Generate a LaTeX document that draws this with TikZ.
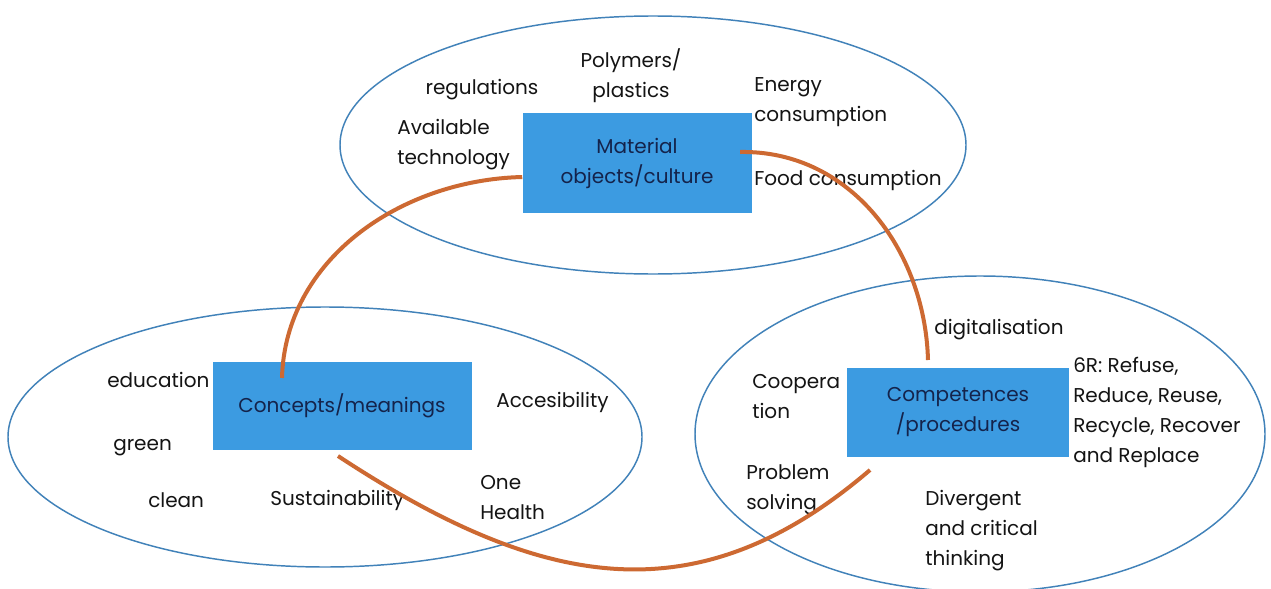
\documentclass[tikz,border=0pt]{standalone}
\usepackage{fontspec}
\setmainfont{Poppins}
\usetikzlibrary{calc}

\definecolor{boxblue}{RGB}{60,155,225}
\definecolor{ringblue}{RGB}{65,130,185}
\definecolor{linkorange}{RGB}{205,105,50}
\definecolor{boxtext}{RGB}{20,35,75}
\definecolor{labeltext}{RGB}{20,20,20}

\tikzset{
  ring/.style={draw=ringblue, line width=1.1pt},
  topic/.style={fill=boxblue, text=boxtext, align=center, inner sep=0pt,
    font=\fontsize{15}{22.5}\selectfont},
  word/.style={text=labeltext, align=left, anchor=west, inner sep=0pt,
    font=\fontsize{15}{22.5}\selectfont},
  link/.style={draw=linkorange, line width=3pt},
}

\begin{document}
\begin{tikzpicture}[x=0.75pt, y=-0.75pt]
\fill[white] (0,0) rectangle (1271,589);
\useasboundingbox (0,0) rectangle (1271,589);

% the three spheres
\draw[ring] (653,145) ellipse [x radius=313, y radius=129];
\draw[ring] (325,437) ellipse [x radius=317, y radius=130];
\draw[ring] (980,434) ellipse [x radius=285, y radius=158];

% boxes
\node[topic, minimum width=171.75pt, minimum height=75pt] (mat) at (637,163) {Material\\objects/culture};
\node[topic, minimum width=194.25pt, minimum height=66pt] (con) at (342,406) {Concepts/meanings};
\node[topic, minimum width=166.5pt, minimum height=66.75pt] (comp) at (958,412) {Competences\\/procedures};

% material objects
\node[word, anchor=center, align=center] (poly) at (631,76) {Polymers/\\plastics};
\node[word, anchor=center] (regul) at (482,90) {regulations};
\node[word] (energy) at (754,102) {Energy\\consumption};
\node[word] (avail) at (397,145) {Available\\technology};
\node[word] (food) at (754,180) {Food consumption};

% concepts
\node[word] (educ) at (107,380) {education};
\node[word] (access) at (496,402) {Accesibility};
\node[word] (green) at (113,448) {green};
\node[word] (clean) at (148,500) {clean};
\node[word] (sustain) at (270,500) {Sustainability};
\node[word] (health) at (480,498) {One\\Health};

% competences
\node[word] (digit) at (934,330) {digitalisation};
\node[word] (sixr) at (1073,412) {6R: Refuse,\\Reduce, Reuse,\\Recycle, Recover\\and Replace};
\node[word] (coop) at (752,397) {Coopera\\tion};
\node[word] (probl) at (746,490) {Problem\\solving};
\node[word] (diverg) at (925,531) {Divergent\\and critical\\thinking};

% links
\draw[link] ($(mat.west)+(0,14)$) .. controls (400,180) and (285,260) .. ($(con.center)+(-60,-28)$);
\draw[link] ($(mat.center)+(103,-11)$) .. controls (850,150) and (925,250) .. ($(comp.center)+(-30,-52)$);
\draw[link] ($(con.center)+(-4,50)$) .. controls (539,588) and (695,620) .. ($(comp.center)+(-88,58)$);
\end{tikzpicture}
\end{document}
